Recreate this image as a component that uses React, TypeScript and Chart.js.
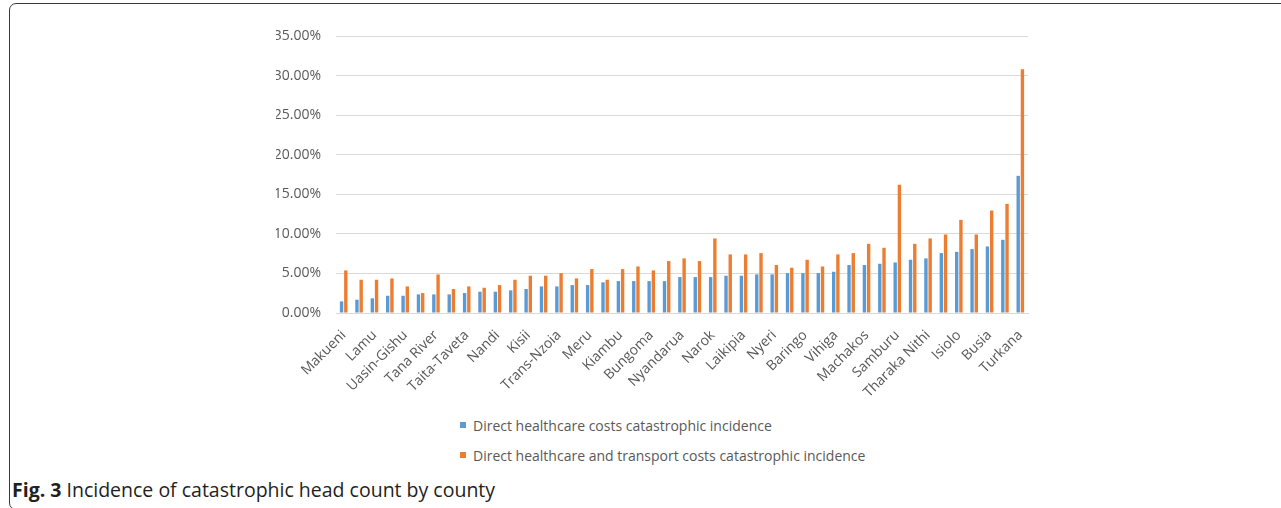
import React, { useEffect, useRef } from "react";
import { Chart, registerables } from "chart.js";
Chart.register(...registerables);

// County labels (only every other label is printed on the reference axis)
const counties = [
  "Makueni", "", "Lamu", "", "Uasin-Gishu", "", "Tana River", "", "Taita-Taveta", "",
  "Nandi", "", "Kisii", "", "Trans-Nzoia", "", "Meru", "", "Kiambu", "",
  "Bungoma", "", "Nyandarua", "", "Narok", "", "Laikipia", "", "Nyeri", "",
  "Baringo", "", "Vihiga", "", "Machakos", "", "Samburu", "", "Tharaka Nithi", "",
  "Isiolo", "", "Busia", "", "Turkana",
];

const seriesNames = [
  "Direct healthcare costs catastrophic incidence",
  "Direct healthcare and transport costs catastrophic incidence",
];

// Values in percent
const directCosts = [
  1.47, 1.68, 1.85, 2.18, 2.18, 2.35, 2.35, 2.35, 2.52, 2.69,
  2.69, 2.86, 3.03, 3.36, 3.36, 3.53, 3.53, 3.87, 4.03, 4.03,
  4.03, 4.03, 4.54, 4.54, 4.54, 4.71, 4.71, 4.88, 4.88, 5.04,
  5.04, 5.04, 5.21, 6.06, 6.06, 6.22, 6.39, 6.73, 6.9, 7.57,
  7.73, 8.07, 8.41, 9.25, 17.33,
];

const directAndTransport = [
  5.38, 4.2, 4.2, 4.37, 3.36, 2.52, 4.87, 3.03, 3.36, 3.19,
  3.53, 4.2, 4.71, 4.71, 5.04, 4.37, 5.55, 4.2, 5.55, 5.88,
  5.38, 6.56, 6.9, 6.56, 9.42, 7.4, 7.4, 7.57, 6.06, 5.72,
  6.73, 5.88, 7.4, 7.57, 8.74, 8.24, 16.19, 8.74, 9.42, 9.92,
  11.77, 9.92, 12.95, 13.79, 30.8,
];

const yMin = 0;
const yMax = 35;
const yStep = 5;

const colors = ["#5B9BD5", "#ED7D31"];
const tickColor = "#595959";
const gridColor = "#d9d9d9";
const fontFamily = "'Open Sans', sans-serif";

export default function App() {
  const canvasRef = useRef<HTMLCanvasElement | null>(null);

  useEffect(() => {
    if (!canvasRef.current) return;
    const chart = new Chart(canvasRef.current, {
      type: "bar",
      data: {
        labels: counties,
        datasets: [
          {
            label: seriesNames[0],
            data: directCosts,
            backgroundColor: colors[0],
            barPercentage: 0.8,
            categoryPercentage: 0.55,
          },
          {
            label: seriesNames[1],
            data: directAndTransport,
            backgroundColor: colors[1],
            barPercentage: 0.8,
            categoryPercentage: 0.55,
          },
        ],
      },
      options: {
        responsive: false,
        animation: false,
        devicePixelRatio: 1,
        layout: { padding: { left: 276, right: 253, top: 36, bottom: 0 } },
        plugins: {
          legend: { display: false },
          tooltip: { enabled: false },
        },
        scales: {
          x: {
            grid: { display: false },
            border: { display: true, color: gridColor },
            ticks: {
              autoSkip: false,
              maxRotation: 45,
              minRotation: 45,
              color: tickColor,
              font: { family: fontFamily, size: 14 },
              padding: 6,
            },
            afterFit: (s: any) => {
              s.height = 97;
            },
          },
          y: {
            min: yMin,
            max: yMax,
            grid: { color: gridColor, drawTicks: false },
            border: { display: false },
            ticks: {
              stepSize: yStep,
              padding: 15,
              color: tickColor,
              font: { family: fontFamily, size: 14 },
              callback: (v: any) => Number(v).toFixed(2) + "%",
            },
            afterFit: (s: any) => {
              s.width = 60;
            },
          },
        },
      },
    });
    return () => chart.destroy();
  }, []);

  const legendItem = (i: number, top: number) => (
    <div
      style={{
        position: "absolute",
        left: 460,
        top,
        height: 18,
        display: "flex",
        alignItems: "center",
        fontFamily,
        fontSize: 14,
        color: tickColor,
        whiteSpace: "nowrap",
      }}
    >
      <span
        style={{
          display: "inline-block",
          width: 6,
          height: 6,
          background: colors[i],
          marginRight: 7,
        }}
      />
      {seriesNames[i]}
    </div>
  );

  return (
    <div
      style={{
        position: "fixed",
        left: 0,
        top: 0,
        width: 1281,
        height: 508,
        overflow: "hidden",
        background: "#fff",
      }}
    >
      <div
        style={{
          position: "absolute",
          left: 9,
          top: 3,
          width: 1300,
          height: 507,
          border: "1px solid #3a3a3a",
          borderRadius: 7,
          boxSizing: "border-box",
        }}
      />
      <canvas
        ref={canvasRef}
        width={1281}
        height={410}
        style={{ position: "absolute", left: 0, top: 0, width: 1281, height: 410 }}
      />
      {legendItem(0, 416)}
      {legendItem(1, 446)}
      <div
        style={{
          position: "absolute",
          left: 12,
          top: 477,
          fontFamily,
          fontSize: 19.5,
          lineHeight: "26px",
          color: "#231f20",
          whiteSpace: "nowrap",
        }}
      >
        <b>Fig. 3</b> Incidence of catastrophic head count by county
      </div>
    </div>
  );
}
